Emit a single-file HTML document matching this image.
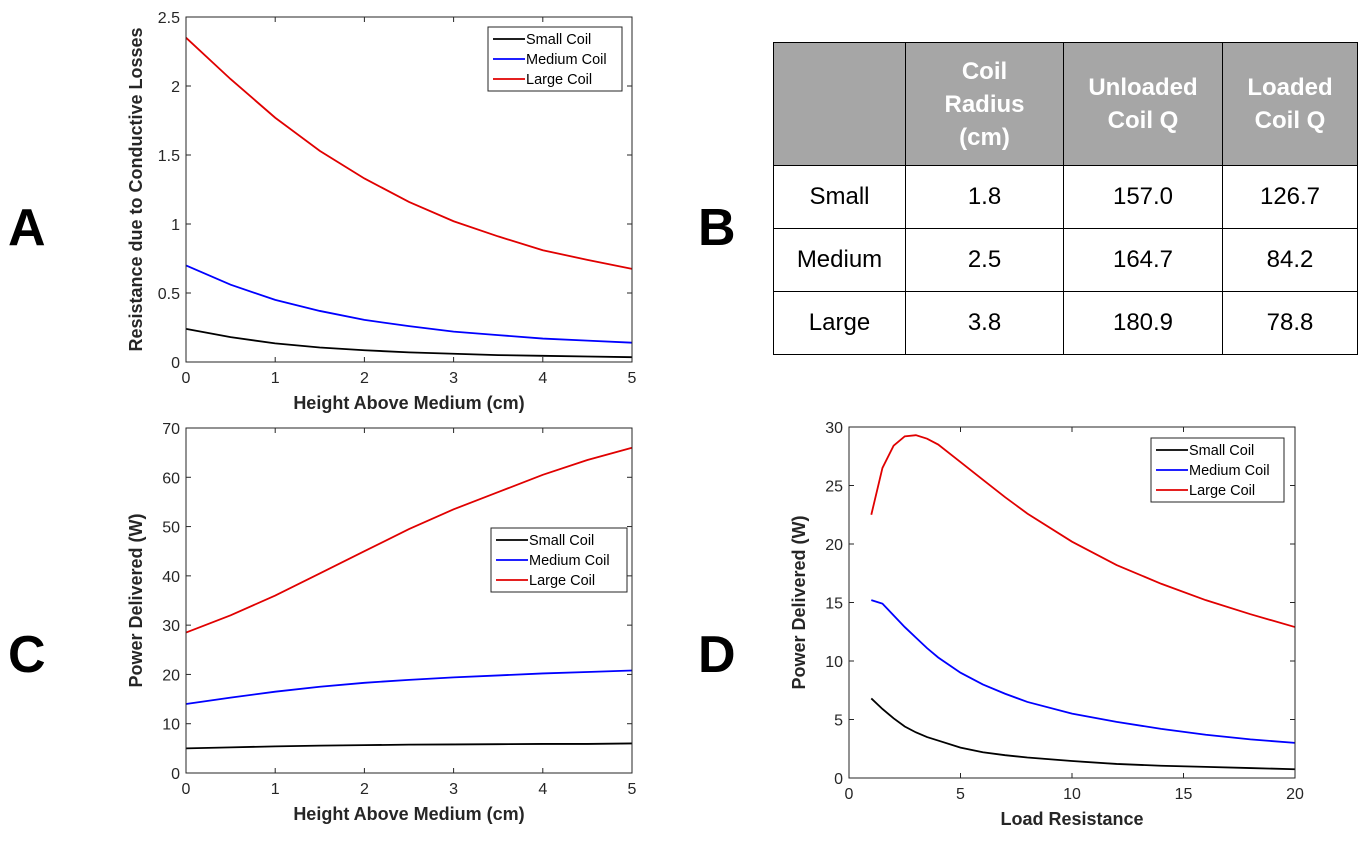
<!DOCTYPE html>
<html><head><meta charset="utf-8">
<style>
body{margin:0;background:#fff;width:1366px;height:846px;overflow:hidden;font-family:"Liberation Sans",sans-serif;}
svg{position:absolute;left:0;top:0;}
.tbl{position:absolute;left:773px;top:42px;border-collapse:collapse;font-family:"Liberation Sans",sans-serif;font-size:24px;color:#000;}
.tbl td,.tbl th{border:1.5px solid #000;text-align:center;padding:0;}
.tbl th{background:#a6a6a6;color:#fff;font-weight:bold;height:122px;line-height:33px;}
.tbl td{height:62px;}
</style></head><body>
<svg id="chart" width="1366" height="846"></svg>
<table class="tbl">
<tr><th style="width:131px"></th><th style="width:157px">Coil<br>Radius<br>(cm)</th><th style="width:158px">Unloaded<br>Coil Q</th><th style="width:134px">Loaded<br>Coil Q</th></tr>
<tr><td>Small</td><td>1.8</td><td>157.0</td><td>126.7</td></tr>
<tr><td>Medium</td><td>2.5</td><td>164.7</td><td>84.2</td></tr>
<tr><td>Large</td><td>3.8</td><td>180.9</td><td>78.8</td></tr>
</table>
<script>
const xsAC=[0,0.5,1,1.5,2,2.5,3,3.5,4,4.5,5];
const aSmall=[0.24,0.18,0.135,0.105,0.085,0.07,0.06,0.05,0.045,0.04,0.035];
const aMedium=[0.70,0.56,0.45,0.37,0.305,0.26,0.22,0.195,0.17,0.155,0.14];
const aLarge=[2.35,2.05,1.77,1.53,1.33,1.16,1.02,0.91,0.81,0.74,0.675];
const cSmall=[5,5.2,5.4,5.55,5.65,5.75,5.8,5.85,5.9,5.9,6];
const cMedium=[14,15.3,16.5,17.5,18.3,18.9,19.4,19.8,20.2,20.5,20.8];
const cLarge=[28.5,32,36,40.5,45,49.5,53.5,57,60.5,63.5,66];
const xsD=[1,1.5,2,2.5,3,3.5,4,5,6,7,8,10,12,14,16,18,20];
const dSmall=[6.8,5.9,5.1,4.4,3.9,3.5,3.2,2.6,2.2,1.95,1.75,1.45,1.2,1.05,0.95,0.85,0.75];
const dMedium=[15.2,14.9,13.9,12.9,12.0,11.1,10.3,9.0,8.0,7.2,6.5,5.5,4.8,4.2,3.7,3.3,3.0];
const dLarge=[22.5,26.5,28.4,29.2,29.3,29.0,28.5,27.0,25.5,24.0,22.6,20.2,18.2,16.6,15.2,14.0,12.9];
const aYTicks=["0","0.5","1","1.5","2","2.5"];
const cYTicks=["0","10","20","30","40","50","60","70"];
const dYTicks=["0","5","10","15","20","25","30"];
const acXTicks=["0","1","2","3","4","5"];
const dXTicks=["0","5","10","15","20"];
const names=["Small Coil","Medium Coil","Large Coil"];
const colors=["#000","#0000ff","#e00000"];
const NS="http://www.w3.org/2000/svg";
const svg=document.getElementById('chart');
function mk(t,a,p){const e=document.createElementNS(NS,t);for(const k in a)e.setAttribute(k,a[k]);(p||svg).appendChild(e);return e;}
function panel(id,L,R,T,B,xmax,ymax,xt,yt,xs,series,xlab,ylab,leg){
  const g=mk('g',{});
  
  
  const X=v=>L+(v/xmax)*(R-L), Y=v=>B-(v/ymax)*(B-T);
  xt.forEach(s=>{const v=+s,x=X(v);
    mk('line',{x1:x,x2:x,y1:B,y2:B-5,stroke:'#262626'},g);mk('line',{x1:x,x2:x,y1:T,y2:T+5,stroke:'#262626'},g);
    const t=mk('text',{x:x,y:B+21,'text-anchor':'middle','font-size':16,fill:'#262626'},g);t.textContent=s;
    
    });
  yt.forEach(s=>{const v=+s,y=Y(v);
    mk('line',{x1:L,x2:L+5,y1:y,y2:y,stroke:'#262626'},g);mk('line',{x1:R,x2:R-5,y1:y,y2:y,stroke:'#262626'},g);
    const t=mk('text',{x:L-6,y:y+6,'text-anchor':'end','font-size':16,fill:'#262626'},g);t.textContent=s;
    
    });
  series.forEach((d,i)=>{const p=mk('polyline',{points:d.map((v,j)=>X(xs[j])+','+Y(v)).join(' '),fill:'none',stroke:colors[i],'stroke-width':1.8},g);
    
    });
  mk('rect',{x:L,y:T,width:R-L,height:B-T,fill:'none',stroke:'#262626','stroke-width':1},g);
  const xl=mk('text',{x:(L+R)/2,y:B+47,'text-anchor':'middle','font-size':18,'font-weight':'bold',fill:'#262626'},g);xl.textContent=xlab;
  
  
  const cy=(T+B)/2, cx=L-44;
  const yl=mk('text',{x:cx,y:cy,'text-anchor':'middle','font-size':18,'font-weight':'bold',fill:'#262626',transform:`rotate(-90 ${cx} ${cy})`},g);yl.textContent=ylab;
  
  
  const lg=mk('g',{},g);
  
  
  mk('rect',{x:leg[0],y:leg[1],width:leg[2],height:64,fill:'#fff',stroke:'#262626'},lg);
  names.forEach((n,i)=>{const y=leg[1]+12+i*20;
    mk('line',{x1:leg[0]+5,x2:leg[0]+37,y1:y,y2:y,stroke:colors[i],'stroke-width':1.8},lg);
    const t=mk('text',{x:leg[0]+38,y:y+5,'font-size':14.5,fill:'#000'},lg);t.textContent=n;
    
    });
}
panel('panel-a',186,632,17,362,5,2.5,acXTicks,aYTicks,xsAC,[aSmall,aMedium,aLarge],'Height Above Medium (cm)','Resistance due to Conductive Losses',[488,27,134]);
panel('panel-c',186,632,428,773,5,70,acXTicks,cYTicks,xsAC,[cSmall,cMedium,cLarge],'Height Above Medium (cm)','Power Delivered (W)',[491,528,136]);
panel('panel-d',849,1295,427,778,20,30,dXTicks,dYTicks,xsD,[dSmall,dMedium,dLarge],'Load Resistance','Power Delivered (W)',[1151,438,133]);
[['A',8,245],['B',698,245],['C',8,672],['D',698,672]].forEach(l=>{
  const t=mk('text',{x:l[1],y:l[2],'font-size':52,'font-weight':'bold',fill:'#000'});t.textContent=l[0];
  
  });
</script>
</body></html>
